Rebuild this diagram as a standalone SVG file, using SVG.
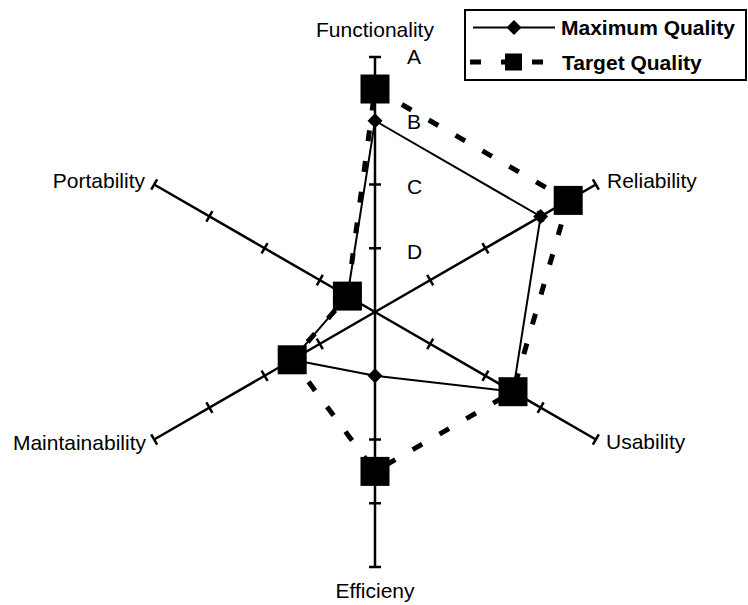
<svg xmlns="http://www.w3.org/2000/svg" xmlns:xlink="http://www.w3.org/1999/xlink" width="748" height="605" viewBox="0 0 748 605">
<style>
.ax{stroke:#000;stroke-width:2.5;fill:none}
.tk{stroke:#000;stroke-width:2.5}
.lbl{font-family:"Liberation Sans",Arial,sans-serif;font-size:21px;fill:#000}
.leg{font-family:"Liberation Sans",Arial,sans-serif;font-size:21px;font-weight:bold;fill:#000}
.maxl{stroke:#000;stroke-width:2;fill:none;stroke-linejoin:miter}
.tgtl{stroke:#000;stroke-width:5;fill:none;stroke-dasharray:11 20}
</style>
<defs>
<g id="axis">
<line class="ax" x1="375" y1="312" x2="375" y2="57"/>
<line class="tk" x1="369" y1="248.25" x2="381" y2="248.25"/>
<line class="tk" x1="369" y1="184.5" x2="381" y2="184.5"/>
<line class="tk" x1="369" y1="120.75" x2="381" y2="120.75"/>
<line class="tk" x1="369" y1="57" x2="381" y2="57"/>
</g>
<rect id="sq" x="-14.5" y="-14.5" width="29" height="29" fill="#000"/>
<path id="dia" d="M0,-7.5 L7.5,0 L0,7.5 L-7.5,0Z" fill="#000"/>
</defs>
<rect width="748" height="605" fill="#fff"/>
<g id="axes">
<g id="axis-functionality"><use xlink:href="#axis"/></g>
<g id="axis-reliability"><use xlink:href="#axis" transform="rotate(60 375 312)"/></g>
<g id="axis-usability"><use xlink:href="#axis" transform="rotate(120 375 312)"/></g>
<g id="axis-efficiency"><use xlink:href="#axis" transform="rotate(180 375 312)"/></g>
<g id="axis-maintainability"><use xlink:href="#axis" transform="rotate(240 375 312)"/></g>
<g id="axis-portability"><use xlink:href="#axis" transform="rotate(300 375 312)"/></g>
</g>
<g id="scale-labels" class="lbl">
<text x="407" y="64">A</text>
<text x="407" y="129">B</text>
<text x="407" y="194">C</text>
<text x="407" y="259">D</text>
</g>
<g id="axis-labels" class="lbl">
<text id="lbl-functionality" x="375" y="37" text-anchor="middle">Functionality</text>
<text id="lbl-reliability" x="607" y="188">Reliability</text>
<text id="lbl-usability" x="606" y="449">Usability</text>
<text id="lbl-efficiency" x="375" y="598" text-anchor="middle">Efficieny</text>
<text id="lbl-maintainability" x="146" y="450" text-anchor="end">Maintainability</text>
<text id="lbl-portability" x="145" y="188" text-anchor="end">Portability</text>
</g>
<g id="connectors">
<polygon id="target-line" class="tgtl" points="375,89 568.2,200.4 513,391.7 375,471.4 292.2,359.8 347.4,296.1"/>
<polygon id="max-line" class="maxl" points="375,120.75 540.6,216.4 513,391.7 375,375.75 292.2,359.8 347.4,296.1"/>
</g>
<g id="target-quality">
<use xlink:href="#sq" x="375" y="89"/>
<use xlink:href="#sq" x="568.2" y="200.4"/>
<use xlink:href="#sq" x="513" y="391.7"/>
<use xlink:href="#sq" x="375" y="471.4"/>
<use xlink:href="#sq" x="292.2" y="359.8"/>
<use xlink:href="#sq" x="347.4" y="296.1"/>
</g>
<g id="maximum-quality">
<use xlink:href="#dia" x="375" y="120.75"/>
<use xlink:href="#dia" x="540.6" y="216.4"/>
<use xlink:href="#dia" x="513" y="391.7"/>
<use xlink:href="#dia" x="375" y="375.75"/>
<use xlink:href="#dia" x="292.2" y="359.8"/>
<use xlink:href="#dia" x="347.4" y="296.1"/>
</g>
<g id="legend">
<rect x="465" y="10" width="281" height="70" fill="#fff" stroke="#000" stroke-width="2"/>
<line x1="473" y1="27.5" x2="555" y2="27.5" stroke="#000" stroke-width="2"/>
<use xlink:href="#dia" x="514" y="27.5"/>
<line x1="470" y1="62" x2="544" y2="62" class="tgtl"/>
<rect x="505" y="53.5" width="17" height="17" fill="#000"/>
<text class="leg" x="561" y="35">Maximum Quality</text>
<text class="leg" x="562" y="70">Target Quality</text>
</g>
</svg>
